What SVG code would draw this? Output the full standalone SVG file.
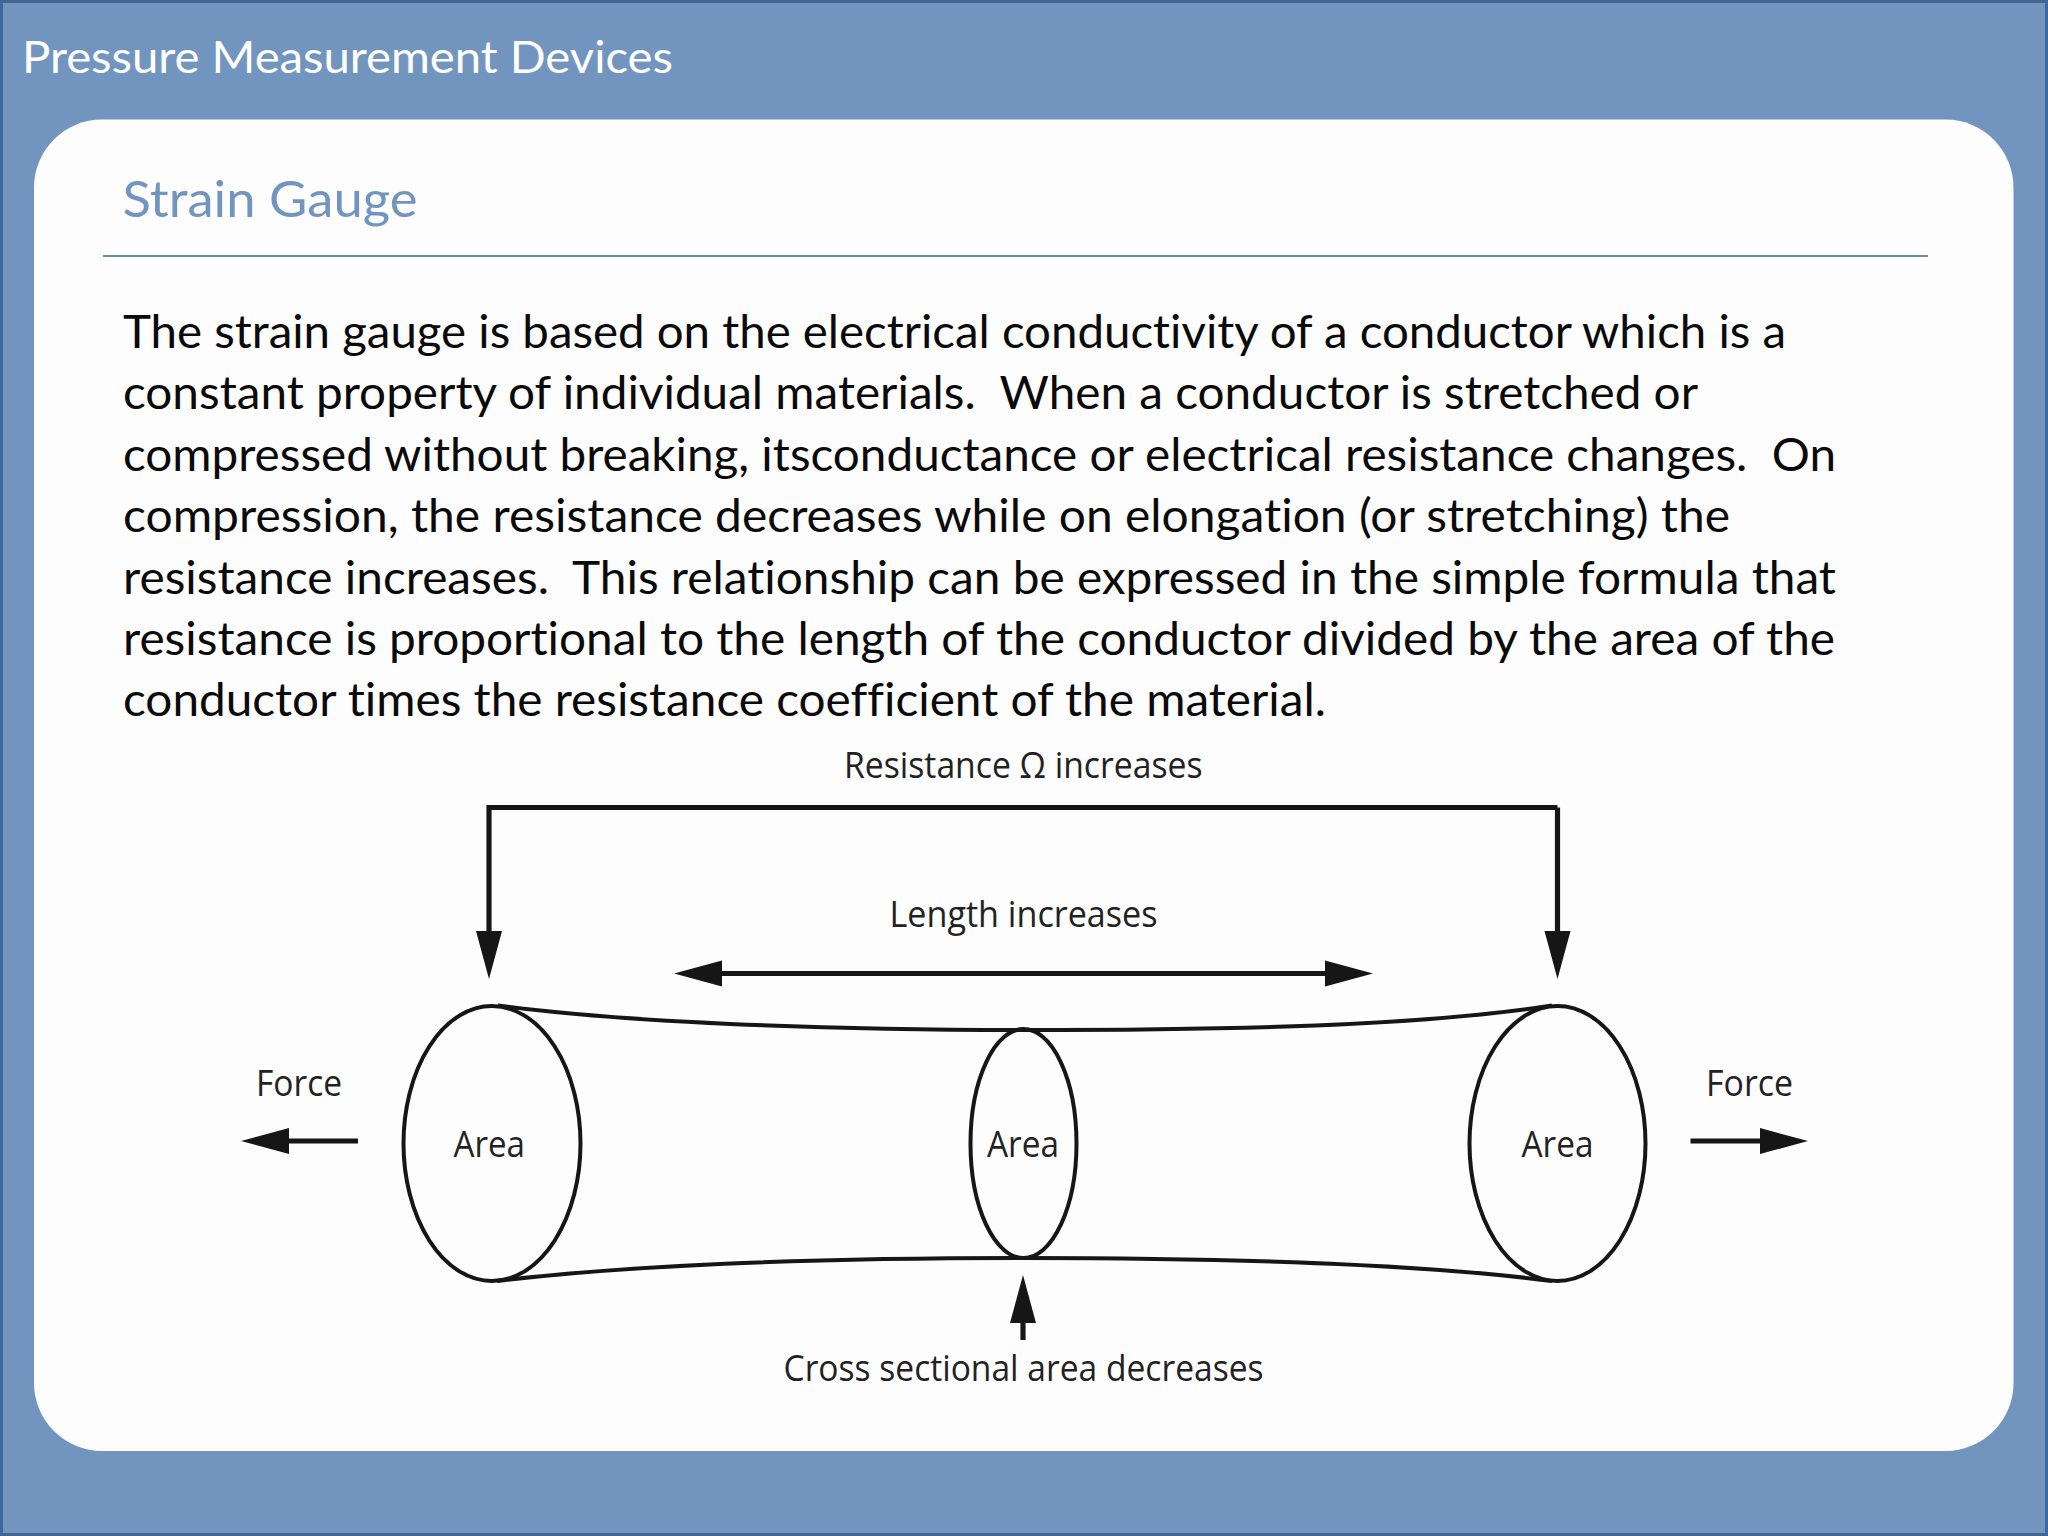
<svg xmlns="http://www.w3.org/2000/svg" width="2048" height="1536" viewBox="0 0 2048 1536">
<style>
text{white-space:pre;font-variant-ligatures:none}
.head{font-family:"Lato","Carlito","Liberation Sans",sans-serif}
.body{font-family:"Lato","Liberation Sans",sans-serif;font-size:46px;fill:#0a0a0a}
.lab{font-family:"Open Sans","Noto Sans",sans-serif;font-size:36px;fill:#222}
.ell{fill:none;stroke:#161616;stroke-width:4}
.tube{fill:none;stroke:#161616;stroke-width:4}
.con{fill:none;stroke:#161616;stroke-width:5.2;marker-end:url(#ah)}
.both{marker-start:url(#ah)}
</style>
<defs>
<marker id="ah" markerUnits="userSpaceOnUse" markerWidth="50" markerHeight="28" viewBox="0 0 50 28" refX="1" refY="14" orient="auto-start-reverse"><path d="M0 1L48 14L0 27Z" fill="#161616"/></marker>
</defs>
<rect x="1.5" y="1.5" width="2045" height="1533" fill="#7295c0" stroke="#3f6797" stroke-width="3"/>
<text id="slide-title" class="head" x="22" y="72.5" font-size="45" fill="#fff" textLength="651" lengthAdjust="spacingAndGlyphs">Pressure Measurement Devices</text>
<rect id="panel" x="34" y="119.5" width="1979.5" height="1331.5" rx="68" ry="68" fill="#fefdfe"/>
<text id="heading" class="head" x="122.5" y="216.5" font-size="50" fill="#7295c0" textLength="295" lengthAdjust="spacingAndGlyphs">Strain Gauge</text>
<rect id="rule" x="103" y="255" width="1825" height="2" fill="#628cc0"/>
<g id="paragraph">
<text class="body" x="123" y="348" textLength="1663" lengthAdjust="spacingAndGlyphs">The strain gauge is based on the electrical conductivity of a conductor which is a</text>
<text class="body" x="123" y="409" textLength="1575" lengthAdjust="spacingAndGlyphs">constant property of individual materials.  When a conductor is stretched or</text>
<text class="body" x="123" y="471" textLength="1713" lengthAdjust="spacingAndGlyphs">compressed without breaking, itsconductance or electrical resistance changes.  On</text>
<text class="body" x="123" y="532" textLength="1607" lengthAdjust="spacingAndGlyphs">compression, the resistance decreases while on elongation (or stretching) the</text>
<text class="body" x="123" y="594" textLength="1713" lengthAdjust="spacingAndGlyphs">resistance increases.  This relationship can be expressed in the simple formula that</text>
<text class="body" x="123" y="655" textLength="1712" lengthAdjust="spacingAndGlyphs">resistance is proportional to the length of the conductor divided by the area of the</text>
<text class="body" x="123" y="715.5" textLength="1203" lengthAdjust="spacingAndGlyphs">conductor times the resistance coefficient of the material.</text>
</g>
<g id="connectors">
<path class="con" d="M1023 1340V1322"/>
<path class="con" d="M358 1141H288"/>
<path class="con" d="M1690.5 1141H1761"/>
<path class="con both" d="M721 973.5H1326"/>
<path class="con" d="M1557.5 807.5H489V932"/>
<path class="con" d="M1557.5 807.5V932"/>
<path class="tube" d="M498 1005.5C620 1022 820 1030 1023 1030C1230 1030 1420 1026 1552 1005.5"/>
<path class="tube" d="M497 1281C630 1265 820 1258 1023 1258C1230 1258 1420 1264 1552 1281"/>
</g>
<g id="area-left"><ellipse class="ell" cx="492" cy="1143.5" rx="88.5" ry="137.5"/><text class="lab" x="453.5" y="1157" textLength="71.5" lengthAdjust="spacingAndGlyphs">Area</text></g>
<g id="area-middle"><ellipse class="ell" cx="1023.5" cy="1143.5" rx="53" ry="114.5"/><text class="lab" x="987" y="1157" textLength="72" lengthAdjust="spacingAndGlyphs">Area</text></g>
<g id="area-right"><ellipse class="ell" cx="1557.5" cy="1143.5" rx="88" ry="137.5"/><text class="lab" x="1521.5" y="1157" textLength="72" lengthAdjust="spacingAndGlyphs">Area</text></g>
<g id="label-resistance"><text class="lab" x="844" y="777.5" textLength="358.5" lengthAdjust="spacingAndGlyphs">Resistance Ω increases</text></g>
<g id="label-length"><text class="lab" x="889.5" y="927" textLength="268" lengthAdjust="spacingAndGlyphs">Length increases</text></g>
<g id="label-force-left"><text class="lab" x="256" y="1096" textLength="86" lengthAdjust="spacingAndGlyphs">Force</text></g>
<g id="label-force-right"><text class="lab" x="1706" y="1096" textLength="87" lengthAdjust="spacingAndGlyphs">Force</text></g>
<g id="label-cross"><text class="lab" x="783.5" y="1380.5" textLength="480" lengthAdjust="spacingAndGlyphs">Cross sectional area decreases</text></g>
</svg>
